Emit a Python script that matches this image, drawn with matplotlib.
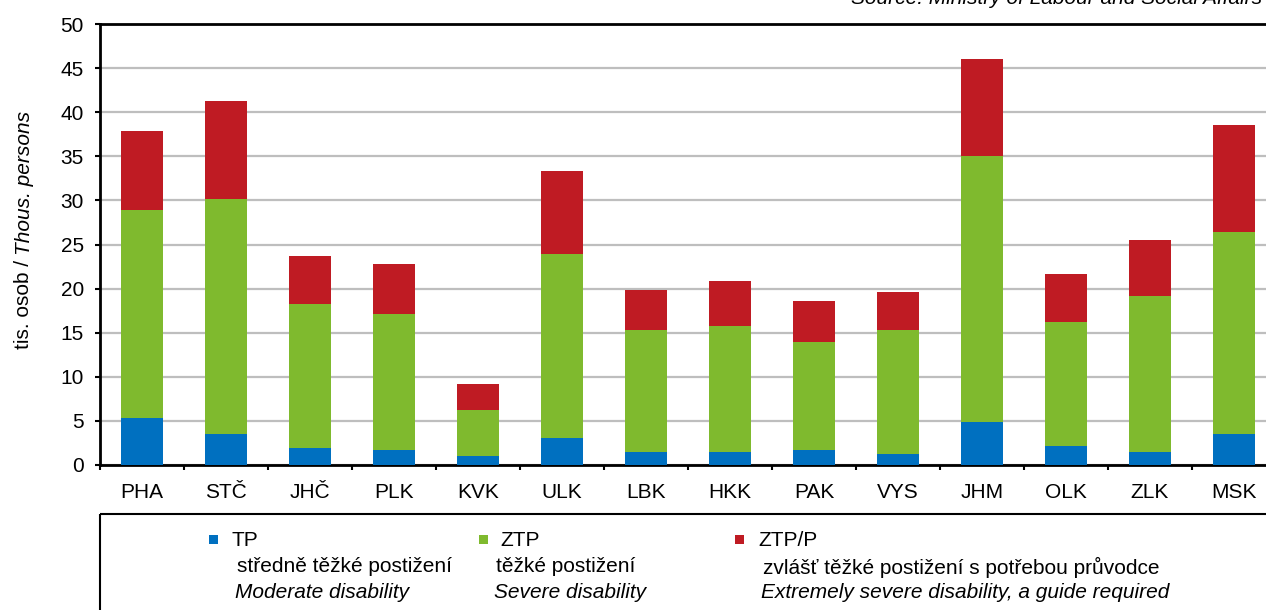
import matplotlib
matplotlib.use("Agg")
import matplotlib.pyplot as plt
from matplotlib.patches import Rectangle
import numpy as np

plt.rcParams['font.family'] = ['Liberation Sans', 'DejaVu Sans']

regions = ["PHA", "STČ", "JHČ", "PLK", "KVK", "ULK", "LBK", "HKK",
           "PAK", "VYS", "JHM", "OLK", "ZLK", "MSK"]
# thousands of persons by card type
tp = [5.3, 3.55, 1.95, 1.7, 1.0, 3.05, 1.45, 1.45, 1.7, 1.25, 4.9, 2.15, 1.45, 3.5]
ztp = [23.6, 26.65, 16.3, 15.4, 5.25, 20.85, 13.85, 14.3, 12.25, 14.05, 30.1, 14.05, 17.7, 22.9]
ztpp = [9.0, 11.1, 5.4, 5.65, 2.95, 9.4, 4.5, 5.15, 4.7, 4.3, 11.0, 5.4, 6.35, 12.2]

series_names = ["TP", "ZTP", "ZTP/P"]
series_cz = ["středně těžké postižení", "těžké postižení",
             "zvlášť těžké postižení s potřebou průvodce"]
series_en = ["Moderate disability", "Severe disability",
             "Extremely severe disability, a guide required"]
colors = ["#0070C0", "#7FBA2E", "#BF1B23"]

FS = 15
W, H = 1266, 610
fig = plt.figure(figsize=(W / 100, H / 100), dpi=100)
ax = fig.add_axes([100 / W, (H - 465) / H, 1176 / W, 441 / H])

x = np.arange(len(regions))
bottom = np.zeros(len(regions))
for vals, c in zip([tp, ztp, ztpp], colors):
    ax.bar(x, vals, width=0.5, bottom=bottom, color=c, zorder=3,
           edgecolor='none')
    bottom += np.array(vals)

ax.set_xlim(-0.5, len(regions) - 0.5)
ax.set_ylim(0, 50)
ax.set_yticks(np.arange(0, 51, 5))
ax.yaxis.grid(True, color="#BEBEBE", linewidth=1.6, zorder=0)
ax.set_axisbelow(True)

ax.set_xticks(x)
ax.set_xticklabels(regions, fontsize=FS)
ax.set_xticks(np.arange(-0.5, len(regions), 1), minor=True)
ax.tick_params(axis='x', which='major', length=0, pad=13)
ax.tick_params(axis='x', which='minor', length=3.6, width=1.5, direction='out')
ax.tick_params(axis='y', length=3.6, width=1.5, direction='out', labelsize=FS, pad=8)

for s in ['left', 'bottom', 'top']:
    ax.spines[s].set_linewidth(2)
    ax.spines[s].set_color('black')
ax.spines['right'].set_visible(False)

# overlay in pixel coordinates for the annotation texts and key
ov = fig.add_axes([0, 0, 1, 1], zorder=5)
ov.set_xlim(0, W)
ov.set_ylim(H, 0)
ov.axis('off')
ov.patch.set_alpha(0)

ov.text(1262, 4, "Source: Ministry of Labour and Social Affairs", ha='right',
        va='baseline', fontsize=FS, style='italic')

# rotated axis title with an italic English part
fig.canvas.draw()
r = fig.canvas.get_renderer()
t1 = ov.text(24, 0, "tis. osob / ", rotation=90, ha='center', va='bottom', fontsize=FS)
t2 = ov.text(24, 0, "Thous. persons", rotation=90, ha='center', va='bottom',
             fontsize=FS, style='italic')
h1 = t1.get_window_extent(r).height
h2 = t2.get_window_extent(r).height
yc = 230
start = yc + (h1 + h2) / 2
t1.set_position((24, start))
t2.set_position((24, start - h1))

# key box
ov.add_patch(Rectangle((100, 514), 1200, 200, facecolor='none',
                       edgecolor='black', linewidth=1.5, clip_on=False))
sq_x = [209, 479, 735]
name_x = [231, 500, 758]
txt_x = [237, 496, 763]
for i in range(3):
    ov.add_patch(Rectangle((sq_x[i], 535), 9, 9, facecolor=colors[i],
                           edgecolor='none'))
    ov.text(name_x[i], 540, series_names[i], va='center', ha='left', fontsize=FS)
    ov.text(txt_x[i], 567, series_cz[i], va='center', ha='left', fontsize=FS)
    ov.text(txt_x[i] - 2, 593, series_en[i], va='center', ha='left', fontsize=FS,
            style='italic')

fig.savefig("out.png", dpi=100)
